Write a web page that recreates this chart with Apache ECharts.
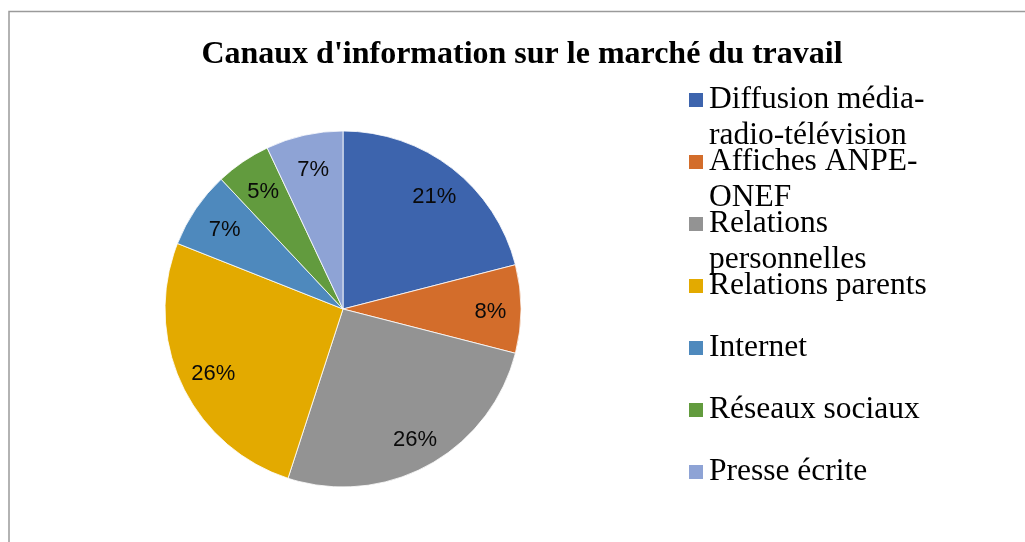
<!DOCTYPE html>
<html>
<head>
<meta charset="utf-8">
<script src="https://cdn.jsdelivr.net/npm/echarts@6/dist/echarts.min.js"></script>
<style>
html,body{margin:0;padding:0;background:#fff;}
#chart{width:1025px;height:542px;}
</style>
</head>
<body>
<div id="chart"></div>
<script>
const categories = ['Diffusion média-radio-télévision', 'Affiches ANPE-ONEF', 'Relations personnelles', 'Relations parents', 'Internet', 'Réseaux sociaux', 'Presse écrite'];
const legendLabels = ['Diffusion média-\nradio-télévision', 'Affiches ANPE-\nONEF', 'Relations\npersonnelles', 'Relations parents', 'Internet', 'Réseaux sociaux', 'Presse écrite'];
const values = [21, 8, 26, 26, 7, 5, 7];
const colors = ['#3D64AD', '#D36D2B', '#939393', '#E3AA00', '#4E89BD', '#629B3E', '#8EA3D5'];
const titleText = "Canaux d'information sur le marché du travail";

const chart = echarts.init(document.getElementById('chart'), null, {renderer: 'canvas'});
const data = categories.map((name, i) => ({name: name, value: values[i], itemStyle: {color: colors[i]}}));

const legends = categories.map((name, i) => {
  const twoLines = legendLabels[i].indexOf('\n') >= 0;
  return {
    data: [name],
    left: 687,
    top: 100 + 62 * i - (twoLines ? 54 : 18),
    padding: 0,
    orient: 'vertical',
    icon: 'rect',
    itemWidth: 16,
    itemHeight: 16,
    selectedMode: false,
    // a blank first line keeps the marker level with the first text line
    formatter: n => {
      const lbl = legendLabels[categories.indexOf(n)];
      return lbl.indexOf('\n') >= 0 ? ' \n' + lbl : lbl;
    },
    textStyle: {
      fontFamily: 'Liberation Serif',
      fontSize: 31.5,
      lineHeight: 36,
      color: '#000'
    }
  };
});

chart.setOption({
  animation: false,
  backgroundColor: '#fff',
  title: {
    text: titleText,
    left: 522,
    textAlign: 'center',
    top: 39,
    padding: 0,
    textStyle: {fontFamily: 'Liberation Serif', fontWeight: 'bold', fontSize: 32, color: '#000'}
  },
  graphic: [{
    type: 'rect',
    shape: {x: 9, y: 11.5, width: 1100, height: 600},
    style: {fill: null, stroke: '#9a9a9a', lineWidth: 1.5},
    silent: true
  }],
  legend: legends,
  series: [{
    type: 'pie',
    center: [343, 309],
    radius: [0, 178],
    startAngle: 90,
    clockwise: true,
    data: data,
    label: {show: false},
    labelLine: {show: false},
    itemStyle: {borderColor: '#fff', borderWidth: 0.8},
    emphasis: {disabled: true}
  }, {
    type: 'pie',
    center: [343, 309],
    radius: [107, 178],
    startAngle: 90,
    clockwise: true,
    silent: true,
    data: data.map(d => ({name: d.name, value: d.value})),
    itemStyle: {color: 'rgba(0,0,0,0)', borderWidth: 0},
    label: {
      show: true,
      position: 'inside',
      offset: [2, 3],
      formatter: p => Math.round(p.percent) + '%',
      fontFamily: 'Liberation Sans',
      fontSize: 22,
      color: '#0a0a0a'
    },
    labelLine: {show: false},
    emphasis: {disabled: true}
  }]
});
</script>
</body>
</html>
